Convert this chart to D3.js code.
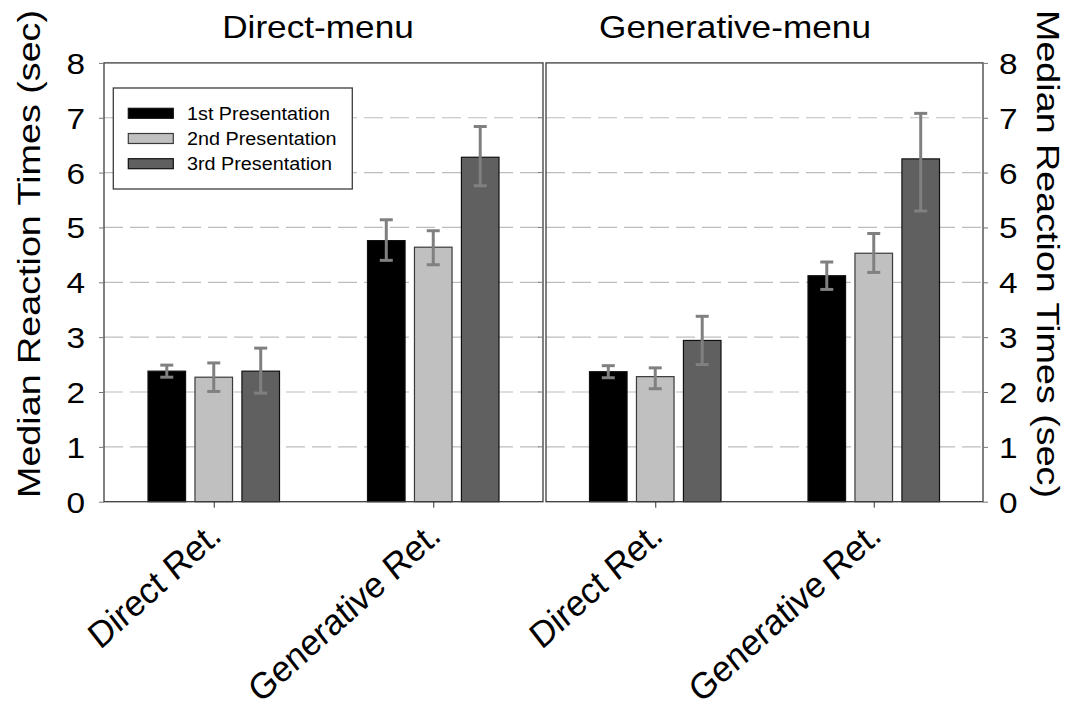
<!DOCTYPE html>
<html>
<head>
<meta charset="utf-8">
<script src="https://cdn.jsdelivr.net/npm/d3@7"></script>
<style>
  html, body { margin: 0; padding: 0; background: #fff; }
  svg { display: block; }
  text { font-family: "Liberation Sans", Arial, Helvetica, sans-serif; fill: #000; }
</style>
</head>
<body>
<svg id="chart" width="1070" height="710"></svg>
<script>
// ---------- data ----------
const panels = ["Direct-menu", "Generative-menu"];
const categories = ["Direct Ret.", "Generative Ret."];
const series = ["1st Presentation", "2nd Presentation", "3rd Presentation"];
const seriesColors = ["#000000", "#c0c0c0", "#606060"];
const yTicks = [0, 1, 2, 3, 4, 5, 6, 7, 8];

// Direct-menu panel: values per category (rows) per series (cols)
const directMenuValues = [[2.38, 2.27, 2.38], [4.76, 4.64, 6.28]];
const directMenuLow    = [[2.27, 2.01, 1.98], [4.40, 4.32, 5.76]];
const directMenuHigh   = [[2.49, 2.53, 2.80], [5.14, 4.94, 6.84]];
// Generative-menu panel
const generativeMenuValues = [[2.37, 2.28, 2.94], [4.12, 4.53, 6.25]];
const generativeMenuLow    = [[2.26, 2.06, 2.50], [3.87, 4.18, 5.30]];
const generativeMenuHigh   = [[2.48, 2.44, 3.38], [4.37, 4.89, 7.08]];

const panelData = [
  { title: panels[0], values: directMenuValues, low: directMenuLow, high: directMenuHigh },
  { title: panels[1], values: generativeMenuValues, low: generativeMenuLow, high: generativeMenuHigh }
];

// ---------- layout ----------
const svg = d3.select("#chart");
const plotTop = 62.9, plotBottom = 501.7;
const panelX = [[104, 543], [546, 983]];
const titleX = [318, 735];
const y = d3.scaleLinear().domain([0, 8]).range([plotBottom, plotTop]);

function stretch(sel, k) {
  sel.each(function () {
    const L = this.getComputedTextLength();
    this.setAttribute("textLength", L * k);
    this.setAttribute("lengthAdjust", "spacingAndGlyphs");
  });
}

panelData.forEach((pd, pi) => {
  const [x0, x1] = panelX[pi];
  const g = svg.append("g");
  const xGroup = d3.scalePoint().domain(categories).range([x0, x1]).padding(0.5);

  // gridlines
  g.append("g").selectAll("line")
    .data(yTicks.filter(t => t > 0 && t < 8))
    .join("line")
    .attr("x1", x0).attr("x2", x1)
    .attr("y1", d => y(d)).attr("y2", d => y(d))
    .attr("stroke", "#bdbdbd").attr("stroke-width", 1.2)
    .attr("stroke-dasharray", "19,7");

  // bars
  categories.forEach((cat, ci) => {
    const cx = xGroup(cat);
    const xs = d3.scaleBand().domain(series).range([cx - 65.75, cx + 65.75]).paddingInner(0.2).paddingOuter(0);
    const rows = series.map((s, si) => ({
      s, si, v: pd.values[ci][si], lo: pd.low[ci][si], hi: pd.high[ci][si]
    }));
    g.append("g").selectAll("rect").data(rows).join("rect")
      .attr("x", d => xs(d.s)).attr("width", xs.bandwidth())
      .attr("y", d => y(d.v)).attr("height", d => y(0) - y(d.v))
      .attr("fill", d => seriesColors[d.si])
      .attr("stroke", d => d.si === 1 ? "#3a3a3a" : "#111").attr("stroke-width", 1.2);

    const eb = g.append("g").selectAll("g").data(rows).join("g")
      .attr("stroke", "#808080").attr("stroke-width", 3);
    eb.append("line")
      .attr("x1", d => xs(d.s) + xs.bandwidth() / 2).attr("x2", d => xs(d.s) + xs.bandwidth() / 2)
      .attr("y1", d => y(d.lo)).attr("y2", d => y(d.hi));
    eb.append("line")
      .attr("x1", d => xs(d.s) + xs.bandwidth() / 2 - 6.5).attr("x2", d => xs(d.s) + xs.bandwidth() / 2 + 6.5)
      .attr("y1", d => y(d.hi)).attr("y2", d => y(d.hi));
    eb.append("line")
      .attr("x1", d => xs(d.s) + xs.bandwidth() / 2 - 6.5).attr("x2", d => xs(d.s) + xs.bandwidth() / 2 + 6.5)
      .attr("y1", d => y(d.lo)).attr("y2", d => y(d.lo));
  });

  // x axis
  const xa = g.append("g").attr("transform", `translate(0,${plotBottom})`)
    .call(d3.axisBottom(xGroup).tickSize(6).tickSizeOuter(0));
  xa.select(".domain").remove();
  xa.selectAll(".tick line").attr("stroke", "#333").attr("stroke-width", 1);
  xa.selectAll(".tick text")
    .attr("x", 0).attr("y", 0).attr("dy", null)
    .style("font-size", "34px")
    .attr("text-anchor", "end")
    .attr("transform", "translate(9,37) scale(1,1.08) rotate(-40)");

  // panel border
  g.append("rect")
    .attr("x", x0).attr("y", plotTop).attr("width", x1 - x0).attr("height", plotBottom - plotTop)
    .attr("fill", "none").attr("stroke", "#3c3c3c").attr("stroke-width", 1.3);

  // title
  const t = g.append("text")
    .attr("x", titleX[pi]).attr("y", 38)
    .attr("text-anchor", "middle")
    .style("font-size", "32px")
    .text(pd.title);
  stretch(t, 1.1);
});

// inner ticks on divider (left panel right edge)
svg.append("g").selectAll("line").data(yTicks.filter(t => t > 0 && t < 8)).join("line")
  .attr("x1", 538).attr("x2", 543).attr("y1", d => y(d)).attr("y2", d => y(d))
  .attr("stroke", "#777").attr("stroke-width", 1);

// left y axis
const ya = svg.append("g").attr("transform", `translate(${panelX[0][0]},0)`)
  .call(d3.axisLeft(y).tickValues(yTicks).tickFormat(d3.format("d")).tickSize(5).tickPadding(14));
ya.select(".domain").remove();
ya.selectAll(".tick line").attr("stroke", "#777");
ya.selectAll(".tick text").style("font-size", "29px").attr("dy", "0.36em");
stretch(ya.selectAll(".tick text"), 1.15);

// right y axis
const yb = svg.append("g").attr("transform", `translate(${panelX[1][1]},0)`)
  .call(d3.axisRight(y).tickValues(yTicks).tickFormat(d3.format("d")).tickSize(5).tickPadding(11));
yb.select(".domain").remove();
yb.selectAll(".tick line").attr("stroke", "#777");
yb.selectAll(".tick text").style("font-size", "29px").attr("dy", "0.36em");
stretch(yb.selectAll(".tick text"), 1.15);

// y axis titles
const yTitle = "Median Reaction Times (sec)";
svg.append("text")
  .attr("transform", "translate(40,254) rotate(-90)")
  .attr("text-anchor", "middle")
  .style("font-size", "31px")
  .attr("textLength", 488).attr("lengthAdjust", "spacingAndGlyphs")
  .text(yTitle);
svg.append("text")
  .attr("transform", "translate(1037,254) rotate(90)")
  .attr("text-anchor", "middle")
  .style("font-size", "31px")
  .attr("textLength", 488).attr("lengthAdjust", "spacingAndGlyphs")
  .text(yTitle);

// legend
const lg = svg.append("g");
lg.append("rect").attr("x", 113.3).attr("y", 88).attr("width", 239).attr("height", 101)
  .attr("fill", "#fff").attr("stroke", "#3c3c3c").attr("stroke-width", 1.3);
const li = lg.selectAll("g.item").data(series).join("g").attr("class", "item")
  .attr("transform", (d, i) => `translate(0,${i * 25.2})`);
li.append("rect").attr("x", 128.3).attr("y", 108.3).attr("width", 45).attr("height", 10)
  .attr("fill", (d, i) => seriesColors[i])
  .attr("stroke", (d, i) => i === 1 ? "#3a3a3a" : "#111").attr("stroke-width", 1.2);
const lt = li.append("text").attr("x", 187).attr("y", 119.6)
  .style("font-size", "17.5px").text(d => d);
stretch(lt, 1.13);
</script>
</body>
</html>
